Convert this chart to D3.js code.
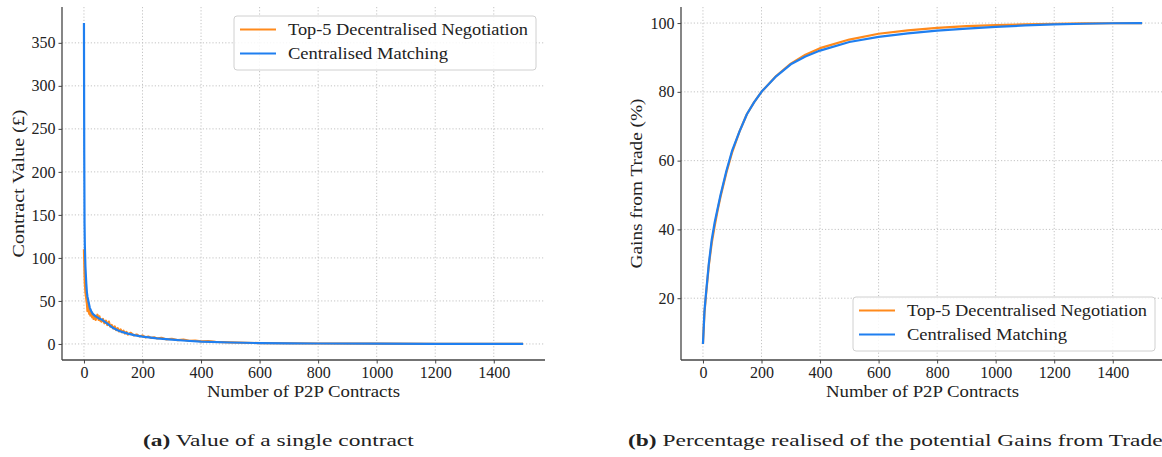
<!DOCTYPE html>
<meta charset="utf-8">
<script src="https://d3js.org/d3.v7.min.js"></script>
<style>
  body { margin: 0; background: #fff; }
  text { font-family: "Liberation Serif", "DejaVu Serif", serif; fill: #222; }
</style>
<div id="dataviz"></div>
<script>

// ---- data ----
var seriesNames = ["Top-5 Decentralised Negotiation", "Centralised Matching"];
var seriesColors = ["#ff8a1c", "#1f7ff0"];

// (a) value of a single contract
var valueXTicks = [0, 200, 400, 600, 800, 1000, 1200, 1400];
var valueYTicks = [0, 50, 100, 150, 200, 250, 300, 350];

var decValueX = [0,1,2,3,5,8,10,12,14,16,18,20,22,25,28,30,33,36,40,43,46,50,53,56,60,65,70,75,80,85,90,95,100,105,110,115,120,125,130,135,140,145,150,160,170,180,190,200,210,220,230,240,250,265,280,300,320,340,360,380,400,425,450,500,600,800,1000,1200,1500];
var decValueY = [110,95,80,70,60,52,47,38,49,41,35,40,33,37,31,35,29,33,28,31,34,28,32,27,26,29,24,27,22,26,20,22,18,20.5,16,18.5,14.5,17,13.5,15.5,12,14,11,13,10,11,8.8,9.8,7.6,8.6,7,7.8,6.4,7.2,5.4,6,4.5,5,3.6,4,3,3.2,2.4,1.8,1,0.5,0.3,0.2,0.1];

var cenValueX = [0,1,2,3,5,8,10,12,15,20,25,30,40,50,60,70,80,90,100,115,130,150,175,200,250,300,350,400,500,600,700,800,1000,1200,1500];
var cenValueY = [373,220,140,115,90,70,60,55,50,42,38,35,32,30,28.5,26,23.5,21,18.5,16,14,12,10,8.5,6.5,5,3.7,2.7,1.7,1,0.7,0.5,0.3,0.2,0.1];

// (b) gains from trade
var gainsXTicks = [0, 200, 400, 600, 800, 1000, 1200, 1400];
var gainsYTicks = [20, 40, 60, 80, 100];

var gainsX = [0,5,10,20,30,40,50,60,80,100,125,150,175,200,250,300,350,400,500,600,700,800,900,1000,1100,1200,1300,1400,1500];
var decGainsY = [6.7,15.5,20.5,29.5,36,41,45.5,49.5,56.5,62.5,68.5,73.5,77,80,84.6,88.2,90.8,92.7,95.2,96.9,97.9,98.6,99.1,99.4,99.6,99.8,99.9,99.95,100];
var cenGainsY = [6.7,16,21,30,37,42,46,50,57,63,68.5,73.5,77,80,84.5,88,90.3,92,94.5,96,97,97.8,98.4,98.9,99.3,99.6,99.8,99.95,100];

// ---- drawing ----
var W = 1162, H = 457;
var svg = d3.select("#dataviz").append("svg")
  .attr("width", W).attr("height", H);

// stretch a text to a given width (the original uses a wider font)
function fit(sel, w) {
  sel.attr("textLength", w).attr("lengthAdjust", "spacingAndGlyphs");
}

var capScale = null;

function panel(cfg) {
  var x = d3.scaleLinear().domain([-75, 1575]).range([cfg.left, cfg.right]);
  var y = d3.scaleLinear().domain(cfg.yDomain).range([cfg.bottom, cfg.top]);
  var g = svg.append("g");

  // grid
  g.append("g").selectAll("line").data(cfg.xTicks).enter().append("line")
    .attr("x1", function(d){ return x(d); }).attr("x2", function(d){ return x(d); })
    .attr("y1", cfg.top).attr("y2", cfg.bottom)
    .attr("stroke", "#bdbdbd").attr("stroke-width", 0.9).attr("stroke-dasharray", "1.2,2");
  g.append("g").selectAll("line").data(cfg.yTicks).enter().append("line")
    .attr("y1", function(d){ return y(d); }).attr("y2", function(d){ return y(d); })
    .attr("x1", cfg.left).attr("x2", cfg.right)
    .attr("stroke", "#bdbdbd").attr("stroke-width", 0.9).attr("stroke-dasharray", "1.2,2");

  // lines
  var line = d3.line()
    .x(function(d){ return x(d[0]); })
    .y(function(d){ return y(d[1]); });
  cfg.series.forEach(function(s, i) {
    var pts = s.x.map(function(v, j){ return [v, s.y[j]]; });
    g.append("path").datum(pts)
      .attr("d", line)
      .attr("fill", "none")
      .attr("stroke", seriesColors[i])
      .attr("stroke-width", 2.2)
      .attr("stroke-linejoin", "round");
  });

  // axes
  var xAxis = g.append("g").attr("transform", "translate(0," + cfg.bottom + ")")
    .call(d3.axisBottom(x).tickValues(cfg.xTicks).tickFormat(d3.format("d")).tickSize(3.5).tickPadding(3));
  var yAxis = g.append("g").attr("transform", "translate(" + cfg.left + ",0)")
    .call(d3.axisLeft(y).tickValues(cfg.yTicks).tickFormat(d3.format("d")).tickSize(3.5).tickPadding(3));
  [xAxis, yAxis].forEach(function(a) {
    a.select(".domain").attr("stroke", "#444").attr("stroke-width", 1.3);
    a.selectAll(".tick line").attr("stroke", "#444");
    a.selectAll(".tick text").style("font-family", "Liberation Serif, serif")
      .style("font-size", "16px").attr("fill", "#222");
  });
  xAxis.select(".domain").attr("d", "M" + cfg.left + ",0H" + cfg.right);
  yAxis.select(".domain").attr("d", "M0," + cfg.top + "V" + cfg.bottom);

  // labels
  g.append("text")
    .attr("x", (cfg.left + cfg.right) / 2).attr("y", cfg.bottom + 37)
    .attr("text-anchor", "middle").style("font-size", "16px")
    .text("Number of P2P Contracts").call(fit, 193);
  g.append("text")
    .attr("transform", "translate(" + cfg.yLabelX + "," + ((cfg.top + cfg.bottom) / 2) + ") rotate(-90)")
    .attr("text-anchor", "middle").style("font-size", "16px")
    .text(cfg.yLabel).call(fit, cfg.yLabelW);

  // legend
  var lg = g.append("g").attr("transform", "translate(" + cfg.legX + "," + cfg.legY + ")");
  lg.append("rect").attr("width", 302).attr("height", 54).attr("rx", 3)
    .attr("fill", "#fff").attr("fill-opacity", 0.85)
    .attr("stroke", "#d0d0d0").attr("stroke-width", 1);
  var legW = [240, 160];
  seriesNames.forEach(function(n, i) {
    var yy = 13.5 + i * 24;
    lg.append("line").attr("x1", 6).attr("x2", 42).attr("y1", yy).attr("y2", yy)
      .attr("stroke", seriesColors[i]).attr("stroke-width", 2);
    lg.append("text").attr("x", 54).attr("y", yy + 5.5)
      .style("font-size", "16px").text(n).call(fit, legW[i]);
  });

  // caption
  var cg = g.append("g");
  var cap = cg.append("text").attr("x", 0).attr("y", 0).style("font-size", "16.5px");
  cap.append("tspan").style("font-weight", "bold").text(cfg.capTag);
  cap.append("tspan").text(" " + cfg.capText);
  if (capScale === null) capScale = cfg.capW / cap.node().getComputedTextLength();
  cg.attr("transform", "translate(" + cfg.capX + ",446) scale(" + capScale + ",1)");
}

panel({
  left: 62, right: 545, top: 7, bottom: 360,
  yDomain: [-18.65, 391.65],
  xTicks: valueXTicks, yTicks: valueYTicks,
  series: [{x: decValueX, y: decValueY}, {x: cenValueX, y: cenValueY}],
  yLabel: "Contract Value (\u00a3)", yLabelX: 24, yLabelW: 148,
  legX: 234, legY: 16,
  capX: 143, capW: 271, capTag: "(a)", capText: "Value of a single contract"
});

panel({
  left: 681, right: 1164, top: 7, bottom: 360,
  yDomain: [2.03, 104.67],
  xTicks: gainsXTicks, yTicks: gainsYTicks,
  series: [{x: gainsX, y: decGainsY}, {x: gainsX, y: cenGainsY}],
  yLabel: "Gains from Trade (%)", yLabelX: 642, yLabelW: 170,
  legX: 853, legY: 297,
  capX: 628, capTag: "(b)", capText: "Percentage realised of the potential Gains from Trade"
});

</script>
